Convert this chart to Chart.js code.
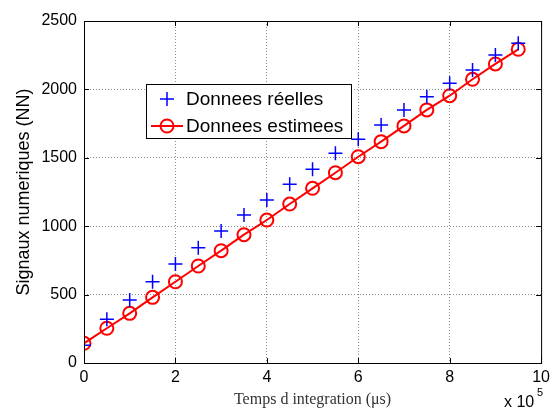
<!DOCTYPE html>
<html>
<head>
<meta charset="utf-8">
<script src="https://cdn.jsdelivr.net/npm/chart.js@4"></script>
<style>
  html, body { margin: 0; padding: 0; background: #fff; }
</style>
</head>
<body>
<canvas id="chart" width="555" height="412"></canvas>
<script>
// data (x in units of 1e5 µs)
const temps = [0, 0.5, 1, 1.5, 2, 2.5, 3, 3.5, 4, 4.5, 5, 5.5, 6, 6.5, 7, 7.5, 8, 8.5, 9, 9.5];
const reelles = [130, 319, 460, 594, 724, 843, 965, 1082, 1192, 1306, 1416, 1533, 1635, 1740, 1850, 1947, 2045, 2142, 2251, 2337];
const estimees = [144, 254, 363, 480, 594, 709, 821, 938, 1045, 1162, 1277, 1391, 1508, 1618, 1733, 1850, 1954, 2074, 2186, 2293];
const xTicks = [0, 2, 4, 6, 8, 10];
const yTicks = [0, 500, 1000, 1500, 2000, 2500];
const seriesNames = ['Donnees réelles', 'Donnees estimees'];

const BLUE = '#0000ff';
const RED = '#ff0000';
const SANS = '"Liberation Sans", Arial, sans-serif';
const SERIF = '"Liberation Serif", "DejaVu Serif", serif';

// axes box, inward tick marks, legend box and the x10^5 exponent
const matlabLook = {
    id: 'matlabLook',
    afterDatasetsDraw(chart) {
        const { ctx, chartArea: a, scales: { x, y } } = chart;
        ctx.save();
        ctx.strokeStyle = '#000';
        ctx.lineWidth = 1;
        ctx.strokeRect(a.left + 0.5, a.top + 0.5, a.right - a.left, a.bottom - a.top);
        ctx.beginPath();
        xTicks.forEach(v => {
            const px = Math.round(x.getPixelForValue(v)) + 0.5;
            ctx.moveTo(px, a.bottom); ctx.lineTo(px, a.bottom - 5);
            ctx.moveTo(px, a.top); ctx.lineTo(px, a.top + 5);
        });
        yTicks.forEach(v => {
            const py = Math.round(y.getPixelForValue(v)) + 0.5;
            ctx.moveTo(a.left, py); ctx.lineTo(a.left + 5, py);
            ctx.moveTo(a.right, py); ctx.lineTo(a.right - 5, py);
        });
        ctx.stroke();
        ctx.restore();
    },
    afterDraw(chart) {
        const { ctx } = chart;
        ctx.save();
        // legend
        const bx = 146, by = 84, bw = 205, bh = 54;
        ctx.fillStyle = '#fff';
        ctx.fillRect(bx, by, bw, bh);
        ctx.strokeStyle = '#000';
        ctx.lineWidth = 1;
        ctx.strokeRect(bx + 0.5, by + 0.5, bw, bh);

        const symX = 167, row1 = 99, row2 = 126;
        ctx.strokeStyle = BLUE;
        ctx.lineWidth = 1.5;
        ctx.beginPath();
        ctx.moveTo(symX - 7, row1); ctx.lineTo(symX + 7, row1);
        ctx.moveTo(symX, row1 - 7); ctx.lineTo(symX, row1 + 7);
        ctx.stroke();

        ctx.strokeStyle = RED;
        ctx.lineWidth = 2;
        ctx.beginPath();
        ctx.moveTo(151, row2); ctx.lineTo(183, row2);
        ctx.stroke();
        ctx.beginPath();
        ctx.arc(symX, row2, 6.5, 0, Math.PI * 2);
        ctx.stroke();

        ctx.fillStyle = '#000';
        ctx.font = '19px ' + SANS;
        ctx.textBaseline = 'middle';
        ctx.textAlign = 'left';
        ctx.fillText(seriesNames[0], 186, row1 + 1);
        ctx.fillText(seriesNames[1], 186, row2 + 1);

        // exponent of x axis
        ctx.font = '16px ' + SANS;
        ctx.textBaseline = 'alphabetic';
        ctx.fillText('x 10', 504, 407);
        ctx.font = '11px ' + SANS;
        ctx.fillText('5', 537, 396);
        ctx.restore();
    }
};

const gridOpts = { color: '#8c8c8c', lineWidth: 1, drawTicks: false };
const borderOpts = { display: false, dash: [1, 2] };

new Chart(document.getElementById('chart'), {
    type: 'scatter',
    data: {
        datasets: [
            {
                label: seriesNames[0],
                data: temps.map((t, i) => ({ x: t, y: reelles[i] })),
                pointStyle: 'cross',
                pointRadius: 7,
                pointBorderWidth: 1.5,
                borderColor: BLUE,
                backgroundColor: BLUE,
                showLine: false
            },
            {
                label: seriesNames[1],
                data: temps.map((t, i) => ({ x: t, y: estimees[i] })),
                pointStyle: 'circle',
                pointRadius: 6.5,
                pointBorderWidth: 2,
                borderColor: RED,
                backgroundColor: 'rgba(0,0,0,0)',
                pointBackgroundColor: 'rgba(0,0,0,0)',
                borderWidth: 2,
                showLine: true
            }
        ]
    },
    options: {
        responsive: false,
        animation: false,
        devicePixelRatio: 1,
        layout: { padding: { top: 21, right: 10, left: 0, bottom: 0 } },
        plugins: { legend: { display: false }, tooltip: { enabled: false } },
        scales: {
            x: {
                type: 'linear', min: 0, max: 10,
                afterBuildTicks: s => { s.ticks = xTicks.map(v => ({ value: v })); },
                afterFit: s => { s.height = 49; },
                ticks: { color: '#000', font: { family: SANS, size: 16 }, padding: 5, maxRotation: 0, callback: v => String(v) },
                grid: gridOpts,
                border: borderOpts,
                title: {
                    display: true, text: 'Temps d integration (μs)', color: '#333',
                    font: { family: SERIF, size: 16 }, padding: { top: 0, bottom: 3 }
                }
            },
            y: {
                type: 'linear', min: 0, max: 2500,
                afterBuildTicks: s => { s.ticks = yTicks.map(v => ({ value: v })); },
                afterFit: s => { s.width = 84; },
                ticks: { color: '#000', font: { family: SANS, size: 16 }, padding: 7, callback: v => String(v) },
                grid: gridOpts,
                border: borderOpts,
                title: {
                    display: true, text: 'Signaux numeriques (NN)', color: '#000',
                    font: { family: SANS, size: 18 }, padding: { top: 13, bottom: 0 }
                }
            }
        }
    },
    plugins: [matlabLook]
});
</script>
</body>
</html>
